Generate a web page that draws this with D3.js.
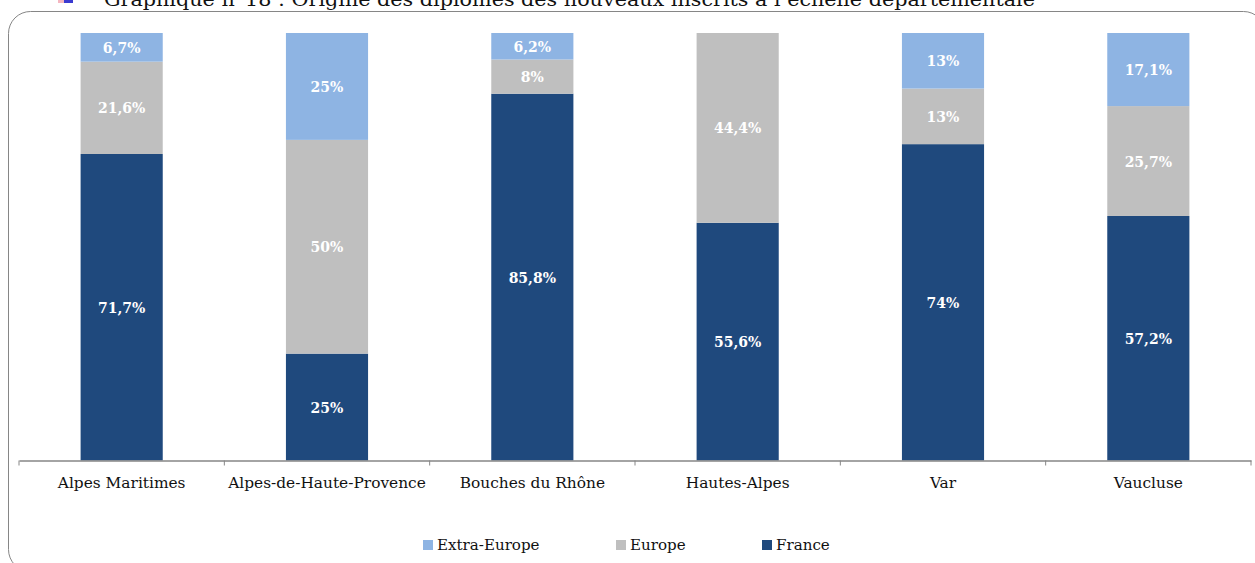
<!DOCTYPE html>
<html>
<head>
<meta charset="utf-8">
<script src="https://cdn.jsdelivr.net/npm/d3@7"></script>
<style>
  html, body { margin: 0; padding: 0; background: #fff; overflow: hidden; }
  text { font-family: "DejaVu Serif", serif; }
</style>
</head>
<body>
<script>
const departements = ['Alpes Maritimes', 'Alpes-de-Haute-Provence', 'Bouches du Rhône', 'Hautes-Alpes', 'Var', 'Vaucluse'];
const france = [71.7, 25, 85.8, 55.6, 74, 57.2];
const europe = [21.6, 50, 8, 44.4, 13, 25.7];
const extraEurope = [6.7, 25, 6.2, 0, 13, 17.1];
const seriesNames = ['France', 'Europe', 'Extra-Europe'];
const legendOrder = ['Extra-Europe', 'Europe', 'France'];
const colors = ['#1f497d', '#bfbfbf', '#8eb4e3'];

const w = 1255, h = 563;
const svg = d3.select('body').append('svg').attr('width', w).attr('height', h);

// titre, coupe en haut de l'image
svg.append('text')
    .attr('x', 104).attr('y', 6)
    .attr('font-size', 18)
    .attr('textLength', 931)
    .attr('lengthAdjust', 'spacingAndGlyphs')
    .attr('fill', '#111')
    .text('Graphique n°18 : Origine des diplômes des nouveaux inscrits à l’échelle départementale');

// petit symbole devant le titre
svg.append('rect').attr('x', 58).attr('y', 0).attr('width', 6).attr('height', 3).attr('fill', '#f4b6c0');
svg.append('rect').attr('x', 64).attr('y', 0).attr('width', 9).attr('height', 3).attr('fill', '#3a3ad0');

// cadre arrondi, il deborde de l'image a droite et en bas
svg.append('rect')
    .attr('x', 8.5).attr('y', 11.5)
    .attr('width', 1257).attr('height', 560)
    .attr('rx', 22).attr('ry', 22)
    .attr('fill', 'none')
    .attr('stroke', '#868686')
    .attr('stroke-width', 1);

// bandes de 205 px, barres de 82 px
const band = d3.scaleBand().domain(departements).range([19, 1251]);
const y = d3.scaleLinear().domain([0, 100]).range([460.5, 33]);

const data = departements.map((d, i) => ({ dep: d, France: france[i], Europe: europe[i], 'Extra-Europe': extraEurope[i] }));
const stacked = d3.stack().keys(seriesNames)(data);
const barW = band.bandwidth() * 0.4;

const groups = svg.selectAll('g.serie')
    .data(stacked)
    .enter()
    .append('g')
    .attr('class', 'serie')
    .attr('fill', (d, i) => colors[i]);

groups.selectAll('rect')
    .data(d => d.filter(p => p[1] > p[0]))
    .enter()
    .append('rect')
    .attr('x', d => band(d.data.dep) + (band.bandwidth() - barW) / 2)
    .attr('width', barW)
    .attr('y', d => y(d[1]))
    .attr('height', d => y(d[0]) - y(d[1]));

// etiquettes blanches
groups.selectAll('text')
    .data(d => d.filter(p => p[1] > p[0]))
    .enter()
    .append('text')
    .attr('x', d => band(d.data.dep) + band.bandwidth() / 2)
    .attr('y', d => (y(d[0]) + y(d[1])) / 2 + 5.5)
    .attr('text-anchor', 'middle')
    .attr('font-size', 14)
    .attr('font-weight', 'bold')
    .attr('fill', '#fff')
    .text(d => String(+(d[1] - d[0]).toFixed(1)).replace('.', ',') + '%');

// axe des categories
const axis = svg.append('g')
    .attr('transform', 'translate(0,' + y(0) + ')')
    .call(d3.axisBottom(band).tickSize(0).tickPadding(17));
axis.select('.domain').attr('stroke', '#868686').attr('stroke-width', 1.5);
axis.selectAll('text').attr('font-size', 15.4).attr('fill', '#111').attr('font-family', '"DejaVu Serif", serif');

axis.selectAll('line.sep')
    .data(d3.range(departements.length + 1))
    .enter()
    .append('line')
    .attr('class', 'sep')
    .attr('x1', i => i < departements.length ? band(departements[i]) : band.range()[1])
    .attr('x2', i => i < departements.length ? band(departements[i]) : band.range()[1])
    .attr('y1', 0).attr('y2', 5)
    .attr('stroke', '#868686');

// legende
const legendX = d3.scaleOrdinal().domain(legendOrder).range([423, 616, 762]);
const legend = svg.selectAll('g.legende')
    .data(legendOrder)
    .enter()
    .append('g')
    .attr('class', 'legende')
    .attr('transform', d => 'translate(' + legendX(d) + ',0)');
legend.append('rect')
    .attr('y', 540).attr('width', 10).attr('height', 10)
    .attr('fill', d => colors[seriesNames.indexOf(d)]);
legend.append('text')
    .attr('x', 14).attr('y', 550)
    .attr('font-size', 15.1)
    .attr('fill', '#111')
    .text(d => d);
</script>
</body>
</html>
